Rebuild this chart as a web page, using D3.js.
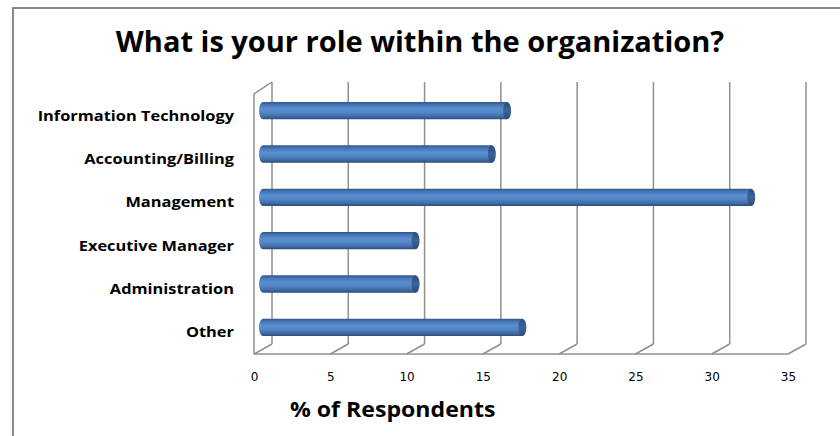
<!DOCTYPE html>
<html>
<head>
<meta charset="utf-8">
<script src="https://cdn.jsdelivr.net/npm/d3@7"></script>
<style>
  html, body { margin: 0; padding: 0; background: #fff; }
  svg { display: block; }
</style>
</head>
<body>
<svg id="chart" width="840" height="436"></svg>
<script>
// Survey responses: role within the organization (% of respondents)
const categories = ["Information Technology", "Accounting/Billing", "Management", "Executive Manager", "Administration", "Other"];
const values = [16, 15, 32, 10, 10, 17];
const tickValues = [0, 5, 10, 15, 20, 25, 30, 35];
const titleText = "What is your role within the organization?";
const axisTitle = "% of Respondents";

const svg = d3.select("#chart");
const W = 840, H = 436;
const FONT = "'Open Sans', Lato, sans-serif";

// Widen text horizontally by factor k (wide bold face)
function widen(sel, k) {
  sel.each(function () {
    const w = this.getComputedTextLength();
    d3.select(this).attr("textLength", w * k).attr("lengthAdjust", "spacingAndGlyphs");
  });
}

// Oblique depth of the pseudo-3D plot box
const depthX = 18, depthY = -10;

const x = d3.scaleLinear().domain([0, 35]).range([254, 788]);
const y = d3.scaleBand().domain(categories).range([94, 354]).paddingInner(0.6).paddingOuter(0.3);
const yLab = d3.scaleBand().domain(categories).range([94, 354]);

// Outer chart frame (left and top edges)
svg.append("path")
  .attr("d", `M13,${H} L13,8 L${W},8`)
  .attr("fill", "none").attr("stroke", "#8a8a8a").attr("stroke-width", 2);

// Title
svg.append("text")
  .attr("x", 420).attr("y", 52)
  .attr("text-anchor", "middle")
  .attr("font-family", FONT)
  .attr("font-weight", "bold").attr("font-size", 29)
  .attr("fill", "#000")
  .text(titleText)
  .call(widen, 1.0);

// Gradient for cylinder bars
const defs = svg.append("defs");
const g1 = defs.append("linearGradient").attr("id", "cyl").attr("x1", 0).attr("y1", 0).attr("x2", 0).attr("y2", 1);
[[0, "#2f5586"], [0.15, "#4474b0"], [0.4, "#5b8fd3"], [0.6, "#5486c8"], [0.85, "#3f6aa3"], [1, "#2a4b78"]]
  .forEach(([o, c]) => g1.append("stop").attr("offset", o).attr("stop-color", c));
const g2 = defs.append("linearGradient").attr("id", "cap").attr("x1", 0).attr("y1", 0).attr("x2", 0).attr("y2", 1);
[[0, "#2b4d7c"], [0.5, "#3d6598"], [1, "#2a4a76"]]
  .forEach(([o, c]) => g2.append("stop").attr("offset", o).attr("stop-color", c));

// Plot box: walls and floor grid
const grid = svg.append("g").attr("stroke", "#8f8f8f").attr("stroke-width", 1.5).attr("fill", "none");
const backTop = 94 + depthY - 2, backBottom = 354 + depthY;
tickValues.forEach(v => {
  const fx = x(v), bx = x(v) + depthX;
  grid.append("line").attr("x1", bx).attr("y1", backTop).attr("x2", bx).attr("y2", backBottom);
  grid.append("line").attr("x1", fx).attr("y1", 354).attr("x2", bx).attr("y2", backBottom);
});
// floor front edge
grid.append("line").attr("x1", x(0)).attr("y1", 354).attr("x2", x(35)).attr("y2", 354);
// left side wall
grid.append("path").attr("d", `M${x(0)},354 L${x(0)},94 L${x(0) + depthX},${backTop}`);

// Category labels
svg.append("g").selectAll("text")
  .data(categories).join("text")
  .attr("x", 234)
  .attr("y", d => yLab(d) + yLab.bandwidth() / 2)
  .attr("dy", "0.35em")
  .attr("text-anchor", "end")
  .attr("font-family", FONT)
  .attr("font-weight", "bold").attr("font-size", 14)
  .attr("fill", "#000")
  .text(d => d)
  .call(widen, 1.17);

// Cylinder bars at mid depth
const midX = depthX / 2, midY = depthY / 2;
const bh = y.bandwidth();
const rx = 4;
const bars = svg.append("g").selectAll("g")
  .data(categories.map((c, i) => ({ c, v: values[i] }))).join("g");
bars.append("path")
  .attr("d", d => {
    const x0 = x(0) + midX, x1 = x(d.v) + midX;
    const y0 = y(d.c) + midY, y1 = y0 + bh;
    return `M${x1},${y0} L${x0},${y0} A${rx},${bh / 2} 0 0 0 ${x0},${y1} L${x1},${y1} Z`;
  })
  .attr("fill", "url(#cyl)");
bars.append("ellipse")
  .attr("cx", d => x(d.v) + midX)
  .attr("cy", d => y(d.c) + midY + bh / 2)
  .attr("rx", rx).attr("ry", bh / 2)
  .attr("fill", "url(#cap)");

// X axis tick labels
const axis = d3.axisBottom(x).tickValues(tickValues).tickSize(0).tickPadding(0);
const ax = svg.append("g").attr("transform", "translate(0,372)").call(axis);
ax.select(".domain").remove();
ax.selectAll("text")
  .attr("font-family", "'DejaVu Sans', Verdana, sans-serif")
  .attr("font-size", 12).attr("fill", "#000");

// Axis title
svg.append("text")
  .attr("x", 290).attr("y", 417)
  .attr("font-family", FONT)
  .attr("font-weight", "bold").attr("font-size", 21)
  .attr("fill", "#000")
  .text(axisTitle)
  .call(widen, 1.1);
</script>
</body>
</html>
